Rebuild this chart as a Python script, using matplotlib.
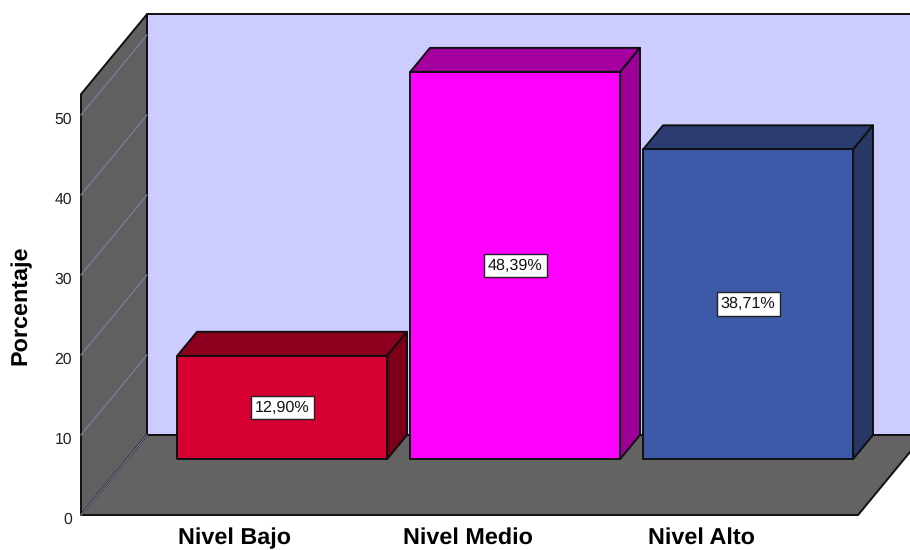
import matplotlib
matplotlib.use('Agg')
import matplotlib.pyplot as plt
from matplotlib.patches import Polygon
from matplotlib.transforms import ScaledTranslation

plt.rcParams['font.family'] = ['Liberation Sans', 'DejaVu Sans']
plt.rcParams['text.hinting'] = 'none'

categories = ['Nivel Bajo', 'Nivel Medio', 'Nivel Alto']
values = [12.90, 48.39, 38.71]
y_ticks = [0, 10, 20, 30, 40, 50]

front_colors = ['#d60032', '#ff00ff', '#3d5aa8']
top_colors = ['#8c001e', '#a5009f', '#2a3c70']
side_colors = ['#7d0019', '#9c0096', '#273766']

# 3d box look: depth 1 moves this far in x (categories) and y (percent)
depth_x = 66 / 233
depth_y = 10
x_min, x_max = -0.661, 2.674
y_top = 52.6
half_width = 105 / 233
bar_shift = 1 / 233


def pt(x, y, d=0):
    return (x + d * depth_x, y + d * depth_y)


def poly(ax, pts, color, z=1, lw=1.4):
    ax.add_patch(Polygon(pts, closed=True, facecolor=color, edgecolor='#101010',
                         linewidth=lw, joinstyle='round', zorder=z, clip_on=False))


fig = plt.figure(figsize=(9.1, 5.5), dpi=100)
ax = fig.add_axes([81 / 910, 35 / 550, 829 / 910, 515 / 550])
ax.set_xlim(-0.661, (910 - 235) / 233)
ax.set_ylim(0, 515 / 8)
for s in ax.spines.values():
    s.set_visible(False)

# walls and floor
poly(ax, [pt(x_min, 0, 1), pt(x_max, 0, 1), pt(x_max, y_top, 1), pt(x_min, y_top, 1)], '#ccccff')
poly(ax, [pt(x_min, 0), pt(x_min, 0, 1), pt(x_min, y_top, 1), pt(x_min, y_top)], '#606060')
poly(ax, [pt(x_min, 0), pt(x_max, 0), pt(x_max, 0, 1), pt(x_min, 0, 1)], '#636363')

# gridlines on the left wall
for t in y_ticks:
    a, b = pt(x_min, t), pt(x_min, t, 1)
    ax.plot([a[0], b[0]], [a[1], b[1]], color='#7f7d9c', lw=0.9, zorder=2, clip_on=False)

# bars
for i, v in enumerate(values):
    l, r = i + bar_shift - half_width, i + bar_shift + half_width
    poly(ax, [pt(l, v, .7), pt(r, v, .7), pt(r, v, 1), pt(l, v, 1)], top_colors[i], 3)
    poly(ax, [pt(r, 0, .7), pt(r, 0, 1), pt(r, v, 1), pt(r, v, .7)], side_colors[i], 3)
    poly(ax, [pt(l, 0, .7), pt(r, 0, .7), pt(r, v, .7), pt(l, v, .7)], front_colors[i], 4)
    cx, cy = pt(i + bar_shift, v / 2, .7)
    ax.text(cx, cy, f'{v:.2f}%'.replace('.', ','), ha='center', va='center', fontsize=11.6,
            color='#111111', zorder=5,
            bbox=dict(boxstyle='square,pad=0.27', facecolor='white', edgecolor='#222222', linewidth=1))

ax.set_xticks(range(len(categories)))
ax.set_xticklabels(categories, fontsize=16.8, fontweight='bold')
ax.set_yticks(y_ticks)
ax.set_yticklabels([str(t) for t in y_ticks], fontsize=11.3, color='#222222')
ax.tick_params(axis='x', length=0, pad=9)
ax.tick_params(axis='y', length=0, pad=6.5)
# tick numbers sit a little below their gridline
nudge = ScaledTranslation(0, -3 / 100, fig.dpi_scale_trans)
for lab in ax.get_yticklabels():
    lab.set_transform(lab.get_transform() + nudge)
ax.set_ylabel('Porcentaje', fontsize=16.8, fontweight='bold')
ax.yaxis.set_label_coords(-50 / 829, 210 / 515)

fig.savefig('out.png', dpi=100)
